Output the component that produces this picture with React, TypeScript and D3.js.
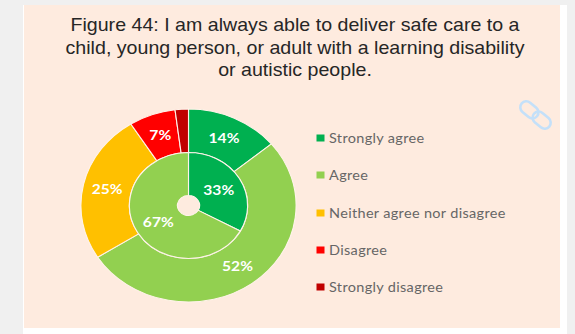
import React from "react";
import * as d3 from "d3";

const titleLines = [
  "Figure 44: I am always able to deliver safe care to a",
  "child, young person, or adult with a learning disability",
  "or autistic people.",
];
const categories = ["Strongly agree", "Agree", "Neither agree nor disagree", "Disagree", "Strongly disagree"];
const categoryColors = ["#00b050", "#92d050", "#ffc000", "#ff0000", "#c00000"];
const outerValues = [14, 52, 25, 7, 2];
const outerLabels = ["14%", "52%", "25%", "7%", ""];
const innerValues = [33, 67];
const innerLabels = ["33%", "67%"];

const W = 575;
const H = 334;
const cx = 188.5;
const cy = 205.5;
const stretchX = 1.115;
const holeR = 10;
const midR = 53;
const outerR = 96.5;
const titleBaselines = [30.5, 53.5, 76];
const legendRows = [138, 175, 213, 250, 287];

// Both rings run clockwise from twelve o'clock in the order of the categories.
const pie = d3.pie<number>().sort(null).value((d) => d);

function Ring({ values, labels, r0, r1 }: { values: number[]; labels: string[]; r0: number; r1: number }) {
  const arc = d3.arc<d3.PieArcDatum<number>>().innerRadius(r0).outerRadius(r1);
  const slices = pie(values);
  return (
    <g>
      {slices.map((s, i) => (
        <path key={i} d={arc(s) ?? ""} fill={categoryColors[i]} stroke="#fff3ea" strokeWidth={1} />
      ))}
      {slices.map((s, i) => {
        const [x, y] = arc.centroid(s);
        return (
          <text
            key={i}
            x={x}
            y={y}
            dy="0.36em"
            textAnchor="middle"
            fill="#ffffff"
            fontFamily="Lato, 'Open Sans', sans-serif"
            fontWeight={700}
            fontSize={14}
          >
            {labels[i]}
          </text>
        );
      })}
    </g>
  );
}

function LinkIcon() {
  return (
    <g transform="translate(535.5 115) rotate(40)" fill="none" stroke="#c4e0f9" strokeWidth={2.6}>
      <rect x={-18} y={-6} width={20} height={12} rx={6} />
      <rect x={-2} y={-6} width={20} height={12} rx={6} />
    </g>
  );
}

export default function App() {
  return (
    <svg width={W} height={H} style={{ position: "absolute", left: 0, top: 0, display: "block" }}>
      <rect width={W} height={H} fill="#f0f0f0" />
      <rect x={23} y={5} width={544} height={H - 5} fill="#ffffff" />
      <rect x={24} y={5} width={536} height={323} fill="#feebdf" />
      {titleLines.map((line, i) => (
        <text
          key={i}
          transform={`translate(295 ${titleBaselines[i]}) scale(${stretchX} 1)`}
          textAnchor="middle"
          fill="#262626"
          fontFamily="'Liberation Sans', Arial, sans-serif"
          fontSize={17.6}
        >
          {line}
        </text>
      ))}
      <g transform={`translate(${cx} ${cy}) scale(${stretchX} 1)`}>
        <Ring values={outerValues} labels={outerLabels} r0={midR} r1={outerR} />
        <Ring values={innerValues} labels={innerLabels} r0={holeR} r1={midR} />
      </g>
      {categories.map((name, i) => (
        <g key={name}>
          <rect x={316.5} y={legendRows[i] - 3.5} width={8} height={7} fill={categoryColors[i]} />
          <text
            transform={`translate(329 ${legendRows[i]}) scale(${stretchX} 1)`}
            dy="0.35em"
            fill="#666666"
            fontFamily="Lato, 'Open Sans', sans-serif"
            fontSize={13}
            letterSpacing={0.3}
          >
            {name}
          </text>
        </g>
      ))}
      <LinkIcon />
    </svg>
  );
}
